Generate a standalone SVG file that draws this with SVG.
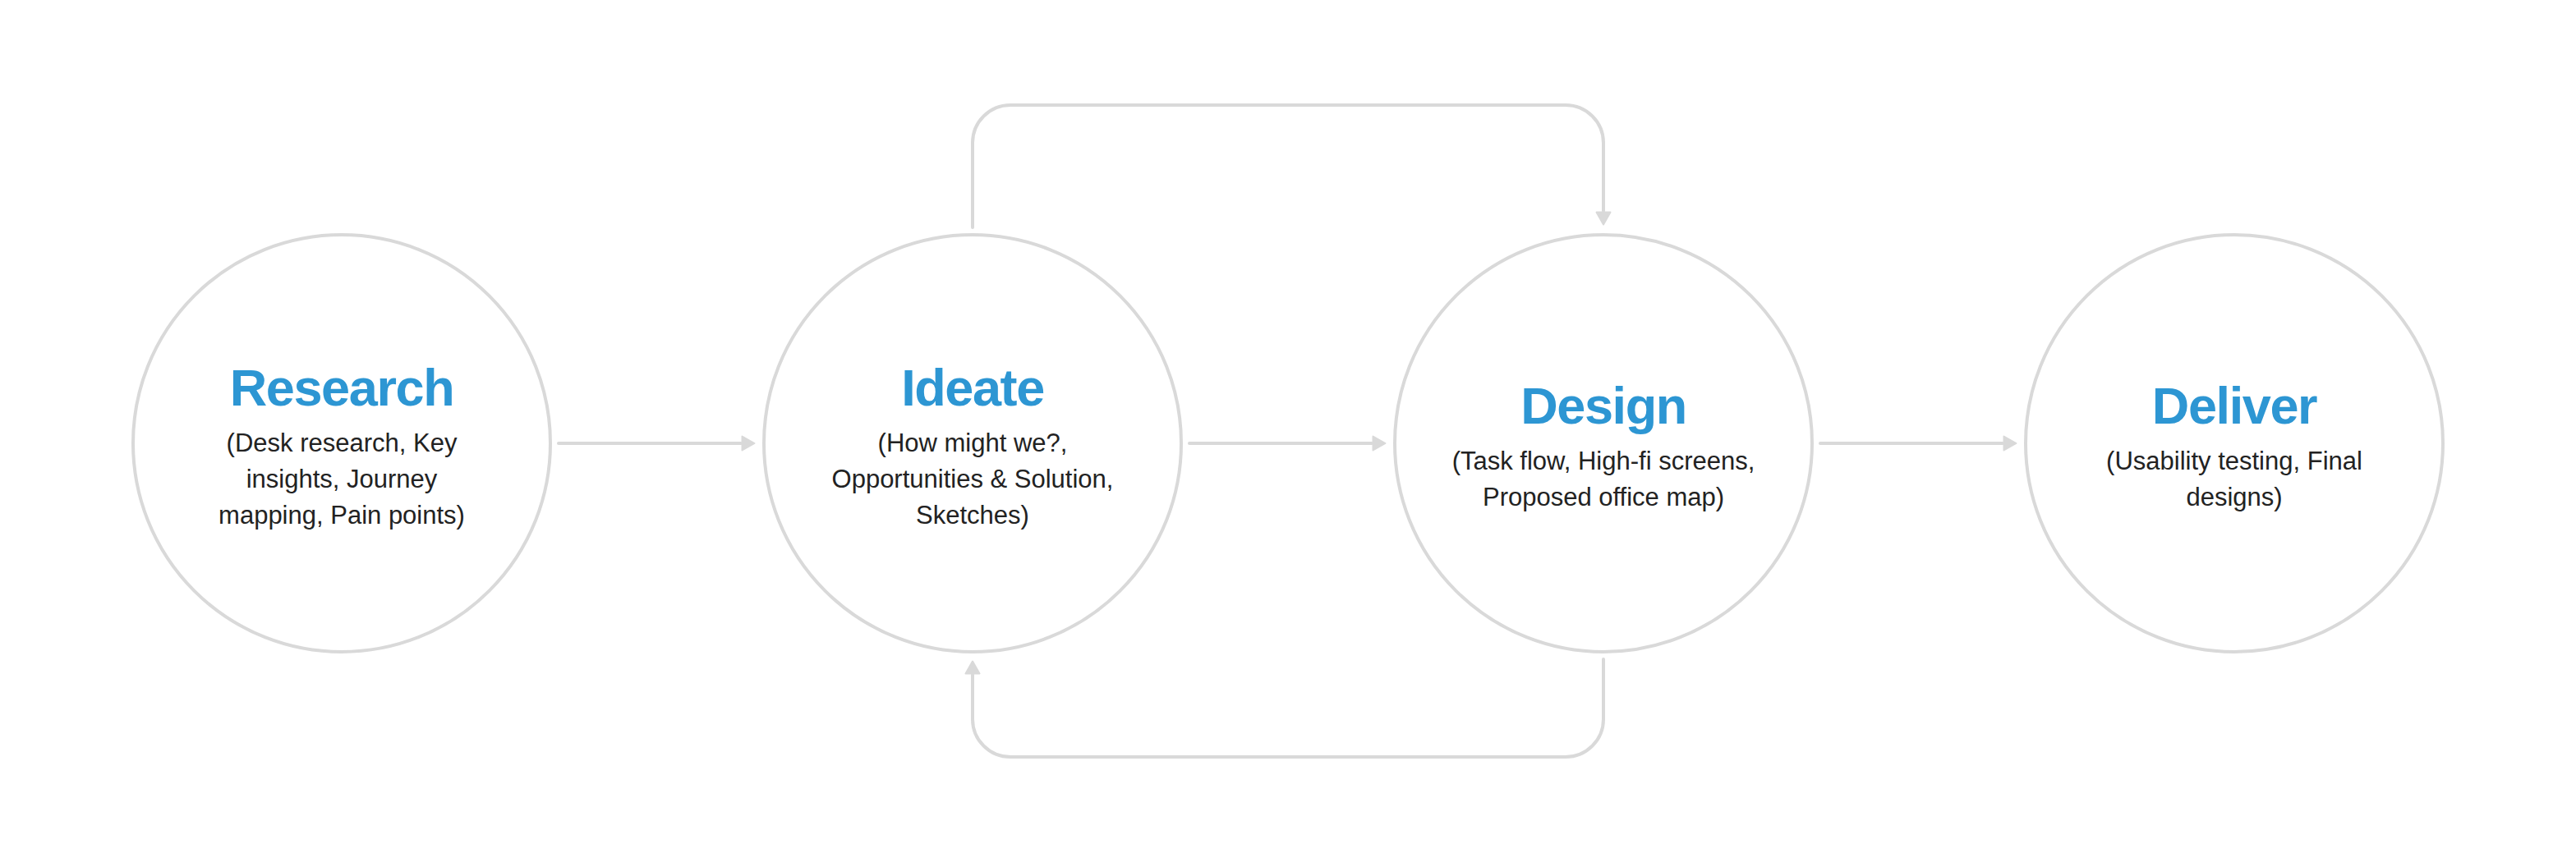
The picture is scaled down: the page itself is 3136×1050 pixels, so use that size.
<svg xmlns="http://www.w3.org/2000/svg" width="3136" height="1050" viewBox="0 0 3136 1050">
<style>
.node circle{fill:#fff;stroke:#d9d9d9;stroke-width:4}
.title{font-family:"Liberation Sans",Arial,sans-serif;font-weight:bold;font-size:63px;letter-spacing:-1.4px;fill:#2d96d3;text-anchor:middle}
.sub{font-family:"Liberation Sans",Arial,sans-serif;font-size:31px;fill:#222;text-anchor:middle}
.edge{fill:none;stroke:#d9d9d9;stroke-width:4;stroke-linecap:round}
</style>
<defs>
<marker id="ah" viewBox="0 0 18 20" refX="0" refY="10" markerWidth="18" markerHeight="20" markerUnits="userSpaceOnUse" orient="auto">
<path d="M1.5,1.5 L16.5,10 L1.5,18.5 Z" fill="#d9d9d9" stroke="#d9d9d9" stroke-width="2" stroke-linejoin="round"/>
</marker>
</defs>
<rect width="3136" height="1050" fill="#fff"/>
<g id="connectors">
<path class="edge" d="M680,540 H902" marker-end="url(#ah)"/>
<path class="edge" d="M1448,540 H1670" marker-end="url(#ah)"/>
<path class="edge" d="M2216,540 H2438" marker-end="url(#ah)"/>
<path class="edge" d="M1184,277 V174 A46,46 0 0 1 1230,128 H1906 A46,46 0 0 1 1952,174 V257" marker-end="url(#ah)"/>
<path class="edge" d="M1952,803 V876 A46,46 0 0 1 1906,922 H1230 A46,46 0 0 1 1184,876 V822" marker-end="url(#ah)"/>
</g>
<g id="research" class="node">
<circle cx="416" cy="540" r="254"/>
<text class="title" x="416" y="494">Research</text>
<text class="sub" x="416" y="550">(Desk research, Key</text>
<text class="sub" x="416" y="594">insights, Journey</text>
<text class="sub" x="416" y="638">mapping, Pain points)</text>
</g>
<g id="ideate" class="node">
<circle cx="1184" cy="540" r="254"/>
<text class="title" x="1184" y="494">Ideate</text>
<text class="sub" x="1184" y="550">(How might we?,</text>
<text class="sub" x="1184" y="594">Opportunities &amp; Solution,</text>
<text class="sub" x="1184" y="638">Sketches)</text>
</g>
<g id="design" class="node">
<circle cx="1952" cy="540" r="254"/>
<text class="title" x="1952" y="516">Design</text>
<text class="sub" x="1952" y="572">(Task flow, High-fi screens,</text>
<text class="sub" x="1952" y="616">Proposed office map)</text>
</g>
<g id="deliver" class="node">
<circle cx="2720" cy="540" r="254"/>
<text class="title" x="2720" y="516">Deliver</text>
<text class="sub" x="2720" y="572">(Usability testing, Final</text>
<text class="sub" x="2720" y="616">designs)</text>
</g>
</svg>
